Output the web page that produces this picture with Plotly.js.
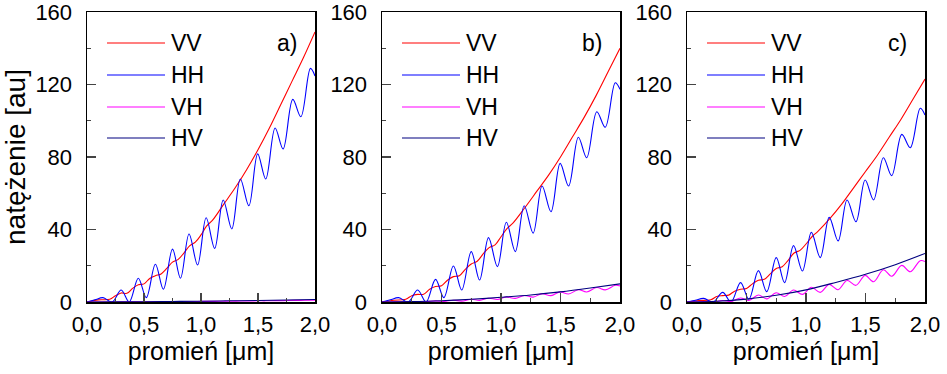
<!DOCTYPE html>
<html><head><meta charset="utf-8">
<script src="https://cdn.plot.ly/plotly-3.0.1.min.js"></script>
<style>html,body{margin:0;padding:0;background:#fff}#chart{width:947px;height:374px}</style>
</head><body><div id="chart"></div>
<script>
// ---- data ----
const seriesNames = ["VV", "HH", "VH", "HV"];
const panelLabels = ["a)", "b)", "c)"];
const xTickVals = [0, 0.5, 1, 1.5, 2];
const xTickText = ["0,0", "0,5", "1,0", "1,5", "2,0"];
const yTickVals = [0, 40, 80, 120, 160];
const yTickText = ["0", "40", "80", "120", "160"];
const xTitle = "promień [μm]";
const yTitle = "natężenie [au]";

const xVV = [0,0.1,0.2,0.25,0.3,0.35,0.4,0.45,0.5,0.55,0.6,0.65,0.7,0.75,0.8,0.85,0.9,0.95,1.0,1.05,1.1,1.2,1.3,1.4,1.5,1.6,1.7,1.8,1.9,2.0];
const vvA = [0,1.2,1.5,3.5,5,4.8,7.5,9.5,10,13,14.5,15.5,18.5,22,23.5,27,31,33,37,42,45,54,63,73,84,96,109,122,135,149];
const vvB = [0,1,1.5,3.5,4.2,4.3,7,8.5,9,12,14,14.5,18,21,22.5,26.5,30,31.5,36,40.5,43.5,52,61,70,80,91,102,114,127,140];
const vvC = [0,0.8,1.2,3,3.5,3.8,6,7,7.5,10,12,12.5,15.5,18.5,19.5,23,27,28.5,32,36,39,46,54,63,72,81,91,101,112,123];

const xOsc = [0,0.07,0.14,0.22,0.30,0.37,0.45,0.52,0.60,0.67,0.75,0.82,0.895,0.97,1.045,1.12,1.195,1.27,1.345,1.42,1.497,1.568,1.65,1.72,1.805,1.876,1.96,2.0];
const hhA = [0,1.2,2.4,0,6.6,0,13.1,2.4,20.8,7,29.2,13.1,37.5,20.4,46.5,29.6,56.3,40.3,67.9,53.1,81.7,67.9,96,84.4,111.8,102.2,128.9,124.7];
const hhB = [0,1.2,2.4,0,6.6,0,12.5,2.4,19.9,6.6,27.8,12.1,35.5,19.5,44,27.8,53.1,38,64,49.8,76.5,64,90.9,79.6,105,96.4,121,117.3];
const hhC = [0,1,2,0,5.3,0,10.7,1.5,17.3,5.7,24.5,10.7,31.1,17.1,38.4,24.5,46.7,33.7,56.3,44.3,67.3,56.3,79.6,69.7,92.5,85.1,106.9,103.2];

const vhA = [0,0,0,0,0.05,0.05,0.1,0.1,0.15,0.15,0.2,0.2,0.3,0.3,0.35,0.35,0.45,0.45,0.55,0.55,0.65,0.65,0.75,0.75,0.9,0.9,1.0,1.0];
const vhB = [0,0,0.1,0.05,0.3,0.15,0.6,0.3,1,0.5,1.5,0.9,2.1,1.4,2.8,2,3.6,2.7,4.6,3.5,5.6,4.4,6.8,5.5,8,6.7,9.2,8.9];
const vhC = [0,0.05,0.2,0.1,0.8,0.3,2.2,0.8,3.9,1.7,5.1,3,6.6,4.2,8.1,5.3,9.7,6.8,11.9,9.2,14.7,11.2,17.8,14.2,20.2,16.7,22.8,22.3];

const xHV = [0,0.25,0.5,0.75,1.0,1.25,1.5,1.75,2.0];
const hvA = [0,0.05,0.15,0.3,0.45,0.65,0.85,1.1,1.4];
const hvB = [0,0.2,0.7,1.5,2.6,3.9,5.6,7.7,10];
const hvC = [0,0.4,1.6,3.7,6.7,10.8,15.3,20.6,26.8];

// ---- styles ----
const colors = {VV: "#ff0000", HH: "#0000ff", VH: "#ff00ff", HV: "#000080"};
const W = 947, H = 374;
const panelsPx = [[87, 315], [382, 620], [687, 925]];
const plotTop = 12, plotBottom = 302;
const FONT = "Liberation Sans, Arial, sans-serif";

const panelData = [
  {VV: vvA, HH: hhA, VH: vhA, HV: hvA},
  {VV: vvB, HH: hhB, VH: vhB, HV: hvB},
  {VV: vvC, HH: hhC, VH: vhC, HV: hvC}
];
const xFor = {VV: xVV, HH: xOsc, VH: xOsc, HV: xHV};

const traces = [];
const layout = {
  width: W, height: H, margin: {l: 0, r: 0, t: 0, b: 0},
  paper_bgcolor: "#fff", plot_bgcolor: "#fff", showlegend: false,
  font: {family: FONT, size: 22, color: "#000"},
  shapes: [], annotations: []
};

const px2x = p => p / W, px2y = p => 1 - p / H;

panelData.forEach((pd, i) => {
  const sfx = i === 0 ? "" : String(i + 1);
  seriesNames.forEach(n => {
    traces.push({
      type: "scatter", mode: "lines", name: n,
      x: xFor[n], y: pd[n],
      xaxis: "x" + sfx, yaxis: "y" + sfx,
      line: {color: colors[n], width: 1.1, shape: "spline", smoothing: 1},
      cliponaxis: true
    });
  });
  const [l, r] = panelsPx[i];
  layout["xaxis" + sfx] = {
    domain: [px2x(l), px2x(r)], range: [0, 2], anchor: "y" + sfx,
    tickvals: xTickVals, ticktext: xTickText, ticks: "inside", ticklen: 9, tickwidth: 1.5,
    minor: {tickvals: [0.25, 0.75, 1.25, 1.75], ticks: "inside", ticklen: 4, tickwidth: 1},
    showline: true, linecolor: "#000", linewidth: 1.5, mirror: true,
    showgrid: false, zeroline: false, tickfont: {size: 22},
    ticklabeloverflow: "allow", ticklabelstandoff: 2,
    title: {text: xTitle, font: {size: 25}, standoff: 6},
    fixedrange: true
  };
  layout["yaxis" + sfx] = {
    domain: [px2y(plotBottom), px2y(plotTop)], range: [0, 160], anchor: "x" + sfx,
    tickvals: yTickVals, ticktext: yTickText, ticks: "inside", ticklen: 9, tickwidth: 1.5,
    minor: {tickvals: [20, 60, 100, 140], ticks: "inside", ticklen: 4, tickwidth: 1},
    showline: true, linecolor: "#000", linewidth: 1.5, mirror: true,
    showgrid: false, zeroline: false, tickfont: {size: 22},
    ticklabeloverflow: "allow", ticklabelstandoff: 9,
    title: i === 0 ? {text: yTitle, font: {size: 28}, standoff: 2} : {text: ""},
    fixedrange: true
  };
  // manual legend
  const rows = [43, 75, 107, 138];
  seriesNames.forEach((n, k) => {
    layout.shapes.push({
      type: "line", xref: "paper", yref: "paper",
      x0: px2x(l + 20), x1: px2x(l + 78), y0: px2y(rows[k]), y1: px2y(rows[k]),
      line: {color: colors[n], width: 1.2}
    });
    layout.annotations.push({
      xref: "paper", yref: "paper", x: px2x(l + 82), y: px2y(rows[k]),
      xanchor: "left", yanchor: "middle", showarrow: false, text: n,
      font: {size: 23, color: "#000"}
    });
  });
  layout.annotations.push({
    xref: "paper", yref: "paper", x: px2x(r - 28), y: px2y(43),
    xanchor: "center", yanchor: "middle", showarrow: false, text: panelLabels[i],
    font: {size: 23, color: "#000"}
  });
});

Plotly.newPlot("chart", traces, layout, {displayModeBar: false, staticPlot: true});
</script></body></html>
